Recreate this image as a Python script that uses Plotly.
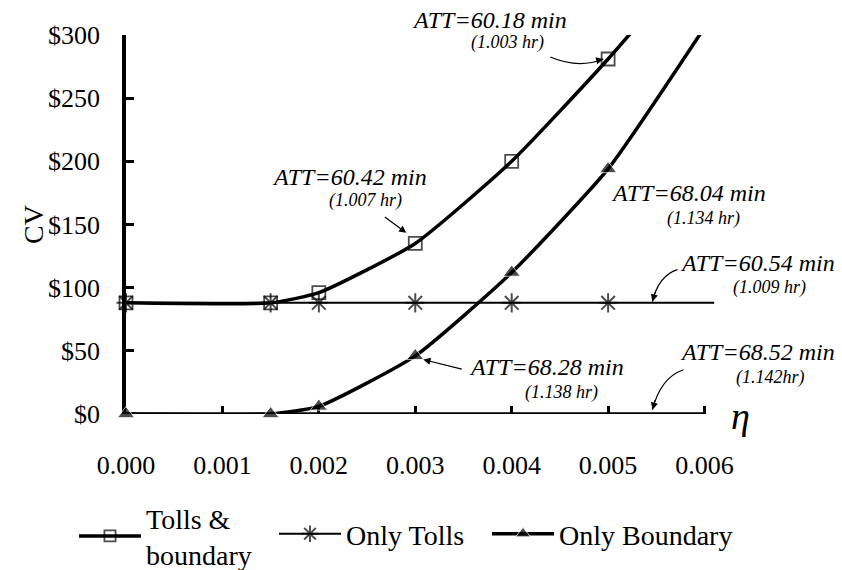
import plotly.graph_objects as go

# ---- data ----
eta = [0.0, 0.0015, 0.002, 0.003, 0.004, 0.005, 0.006]
tolls_boundary = [88, 88, 96, 135, 200, 281, 370]
only_boundary = [0, 0, 6, 46, 112, 194, 306]
eta_tolls = [0.0, 0.0015, 0.002, 0.003, 0.004, 0.005, 0.0061]
only_tolls = [88, 88, 88, 88, 88, 88, 88]
x_ticks = [0.000, 0.001, 0.002, 0.003, 0.004, 0.005, 0.006]
x_tick_labels = ["0.000", "0.001", "0.002", "0.003", "0.004", "0.005", "0.006"]
y_ticks = [0, 50, 100, 150, 200, 250, 300]
y_tick_labels = ["$0", "$50", "$100", "$150", "$200", "$250", "$300"]

FONT = "Liberation Serif"

# plot area in pixels (for placing free text in paper units)
L, T, W, H = 126, 35, 593, 379


def px(xp):
    return (xp - L) / W


def py(yp):
    return (T + H - yp) / H


fig = go.Figure()

fig.add_trace(go.Scatter(
    x=eta, y=tolls_boundary, name="Tolls &<br>boundary",
    mode="lines+markers", legend="legend",
    line=dict(color="black", width=3.5, shape="spline", smoothing=0.5),
    marker=dict(symbol="square-open", size=[13, 13, 13, 13, 13, 13, 0], color="black",
                line=dict(width=1.8, color="black")),
    cliponaxis=False,
))
fig.add_trace(go.Scatter(
    x=eta_tolls, y=only_tolls, name="Only Tolls",
    mode="lines+markers", legend="legend2",
    line=dict(color="black", width=2),
    marker=dict(symbol="asterisk-open", size=[16, 16, 16, 16, 16, 16, 0], color="black",
                line=dict(width=2, color="black")),
    cliponaxis=False,
))
fig.add_trace(go.Scatter(
    x=eta, y=only_boundary, name="Only Boundary",
    mode="lines+markers", legend="legend3",
    line=dict(color="black", width=3.5, shape="spline", smoothing=0.5),
    marker=dict(symbol="triangle-up", size=[15, 15, 15, 15, 15, 15, 0], color="black"),
    cliponaxis=False,
))

# x axis line ending at 0.006
fig.add_shape(type="line", x0=0, x1=0.006, y0=0, y1=0, xref="x", yref="y",
              line=dict(color="black", width=3.5), layer="below")

italic_big = dict(family=FONT, size=24, color="black", style="italic")
italic_small = dict(family=FONT, size=18, color="black", style="italic")

labels = [
    ("ATT=60.18 min", 489, 20, italic_big),
    ("(1.003 hr)", 507, 43, italic_small),
    ("ATT=60.42 min", 349, 177, italic_big),
    ("(1.007 hr)", 365, 200, italic_small),
    ("ATT=68.04 min", 688, 193, italic_big),
    ("(1.134 hr)", 703, 218, italic_small),
    ("ATT=60.54 min", 757, 263, italic_big),
    ("(1.009 hr)", 769, 287, italic_small),
    ("ATT=68.52 min", 757, 352, italic_big),
    ("(1.142hr)", 770, 377, italic_small),
    ("ATT=68.28 min", 546, 367, italic_big),
    ("(1.138 hr)", 561, 392, italic_small),
]
for txt, x, y, f in labels:
    fig.add_annotation(x=px(x), y=py(y), xref="paper", yref="paper", text=txt,
                       showarrow=False, font=f, xanchor="center", yanchor="middle")

# axis titles
fig.add_annotation(x=px(740), y=py(416), xref="paper", yref="paper", text="η",
                   showarrow=False,
                   font=dict(family=FONT, size=38, color="black", style="italic"),
                   xanchor="center", yanchor="middle")
fig.add_annotation(x=px(33), y=py(225), xref="paper", yref="paper", text="CV",
                   showarrow=False, textangle=-90,
                   font=dict(family=FONT, size=28, color="black"),
                   xanchor="center", yanchor="middle")

# straight arrows
fig.add_annotation(x=0.002907, y=143.4, xref="x", yref="y", text="", showarrow=True,
                   ax=-23, ay=-17, arrowhead=2, arrowsize=1.2, arrowwidth=1.2,
                   arrowcolor="black", standoff=0)
fig.add_annotation(x=0.003083, y=43.1, xref="x", yref="y", text="", showarrow=True,
                   ax=40, ay=10, arrowhead=2, arrowsize=1.2, arrowwidth=1.2,
                   arrowcolor="black", standoff=0)

# curved arrows: path relative to head (pixel units) + short arrow for the head
curves = [
    (0.00495, 281.0, "M-53,2 Q-25,-10 0,0", -8, 2),
    (0.00546, 89.0, "M25,32 Q6,26 0,0", 3, -11),
    (0.00546, 3.4, "M31,40 Q8,32 0,0", 3, -11),
]
for hx, hy, path, ax, ay in curves:
    fig.add_shape(type="path", xref="x", yref="y", xsizemode="pixel", ysizemode="pixel",
                  xanchor=hx, yanchor=hy, path=path,
                  line=dict(color="black", width=1.2))
    fig.add_annotation(x=hx, y=hy, xref="x", yref="y", text="", showarrow=True,
                       ax=ax, ay=ay, arrowhead=2, arrowsize=1.2, arrowwidth=1.2,
                       arrowcolor="black", standoff=0)

fig.update_xaxes(
    range=[0, 0.00615], showgrid=False, zeroline=False, showline=False,
    tickmode="array", tickvals=x_ticks, ticktext=x_tick_labels,
    ticks="inside", ticklen=8, tickwidth=2.5, tickcolor="black",
    tickfont=dict(family=FONT, size=26, color="black"),
    ticklabelstandoff=33, automargin=False, layer="below traces",
)
fig.update_yaxes(
    range=[0, 300], showgrid=False, zeroline=False, showline=True,
    linecolor="black", linewidth=3.5,
    tickmode="array", tickvals=y_ticks, ticktext=y_tick_labels,
    ticks="inside", ticklen=8, tickwidth=3, tickcolor="black",
    tickfont=dict(family=FONT, size=26, color="black"),
    ticklabelstandoff=17, automargin=False, layer="below traces",
)

legend_common = dict(orientation="h", xanchor="left", yanchor="top",
                     font=dict(family=FONT, size=28, color="black"),
                     bgcolor="rgba(0,0,0,0)", itemsizing="trace", itemwidth=62)

fig.update_layout(
    width=842, height=570,
    margin=dict(l=L, r=842 - L - W, t=T, b=570 - T - H, autoexpand=False),
    paper_bgcolor="white", plot_bgcolor="white",
    font=dict(family=FONT, color="black"),
    showlegend=True,
    legend=dict(x=px(74), y=py(493), **legend_common),
    legend2=dict(x=px(274), y=py(509), **legend_common),
    legend3=dict(x=px(487), y=py(509), **legend_common),
)

fig.write_html("out.html", config={"displayModeBar": False},
               post_script="document.body.style.margin='0';")
